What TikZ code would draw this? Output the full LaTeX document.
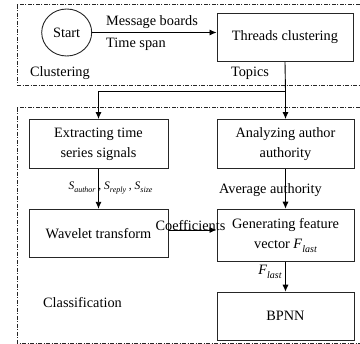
\documentclass[tikz,border=0pt]{standalone}
\usepackage{fontspec}
\setmainfont{Liberation Serif}
\usetikzlibrary{arrows.meta,shapes.geometric}
\newcommand{\lowsub}[2]{\raisebox{-0.3em}{\fontsize{#1}{#1}\selectfont\itshape #2}}
\begin{document}
\begin{tikzpicture}[x=1pt,y=-1pt,
  every node/.style={font=\fontsize{14.3}{20}\selectfont},
  box/.style={draw=black!85, line width=0.9pt, rectangle, minimum width=137, minimum height=48, align=center, inner sep=0pt},
  arr/.style={draw=black, line width=0.9pt, -{Latex[length=7pt,width=6pt]}},
  plain/.style={draw=black, line width=0.9pt},
  region/.style={draw=black!85, line width=0.7pt, dash pattern=on 4pt off 1.5pt on 1pt off 1.5pt},
  lbl/.style={inner sep=0pt}]
\useasboundingbox (0,0) rectangle (360,344);
% regions
\draw[region] (360,4) -- (17,4) -- (17,85) -- (360,85);
\draw[region] (360,107) -- (17,107) -- (17,343) -- (360,343);
% nodes
\node[draw=black!85, line width=0.9pt, ellipse, minimum width=50, minimum height=47, inner sep=0pt] (start) at (66.7,32.5) {Start};
\node[box, minimum width=136, minimum height=48] (threads) at (285,37.5) {Threads clustering};
\node[box, minimum width=139, minimum height=49] (extract) at (98.5,144) {Extracting time\\series signals};
\node[box, minimum height=49] (analyze) at (285.5,144) {Analyzing author\\authority};
\node[box, minimum width=139, minimum height=48] (wavelet) at (98.5,233.3) {Wavelet transform};
\node[box, minimum height=52] (generate) at (285.5,235.2) {Generating feature\\vector \textit{F}\lowsub{10}{last}};
\node[box, minimum height=48] (bpnn) at (285.5,316.2) {BPNN};
% labels
\node[lbl] (mb) at (152,22) {Message boards};
\node[lbl, anchor=west] (ts) at (106,44) {Time span};
\node[lbl] (clu) at (60,73) {Clustering};
\node[lbl] (topics) at (250,73) {Topics};
\node[lbl] (sig) at (110.5,188) {\fontsize{11.5}{12}\selectfont\textit{S}\lowsub{8}{author} , \textit{S}\lowsub{8}{reply} , \textit{S}\lowsub{8}{size}};
\node[lbl] (avg) at (270.5,190) {Average authority};
\node[lbl] (coef) at (190.5,226) {Coefficients};
\node[lbl] (fl) at (270,272) {\textit{F}\lowsub{10}{last}};
\node[lbl] (cls) at (82.5,303) {Classification};
% connectors
\coordinate (split) at (285.5,91);
\coordinate (cy) at (0,230);
\draw[arr] (start) -- (start -| threads.west);
\draw[plain] (threads.south) -- (split);
\draw[arr] (split) -- (analyze.north);
\draw[arr] (split) -| (extract.north);
\draw[arr] (extract.south) -- (wavelet.north);
\draw[arr] (analyze.south) -- (generate.north);
\draw[arr] (wavelet.east |- cy) -- (generate.west |- cy);
\draw[arr] (generate.south) -- (bpnn.north);
\end{tikzpicture}
\end{document}
